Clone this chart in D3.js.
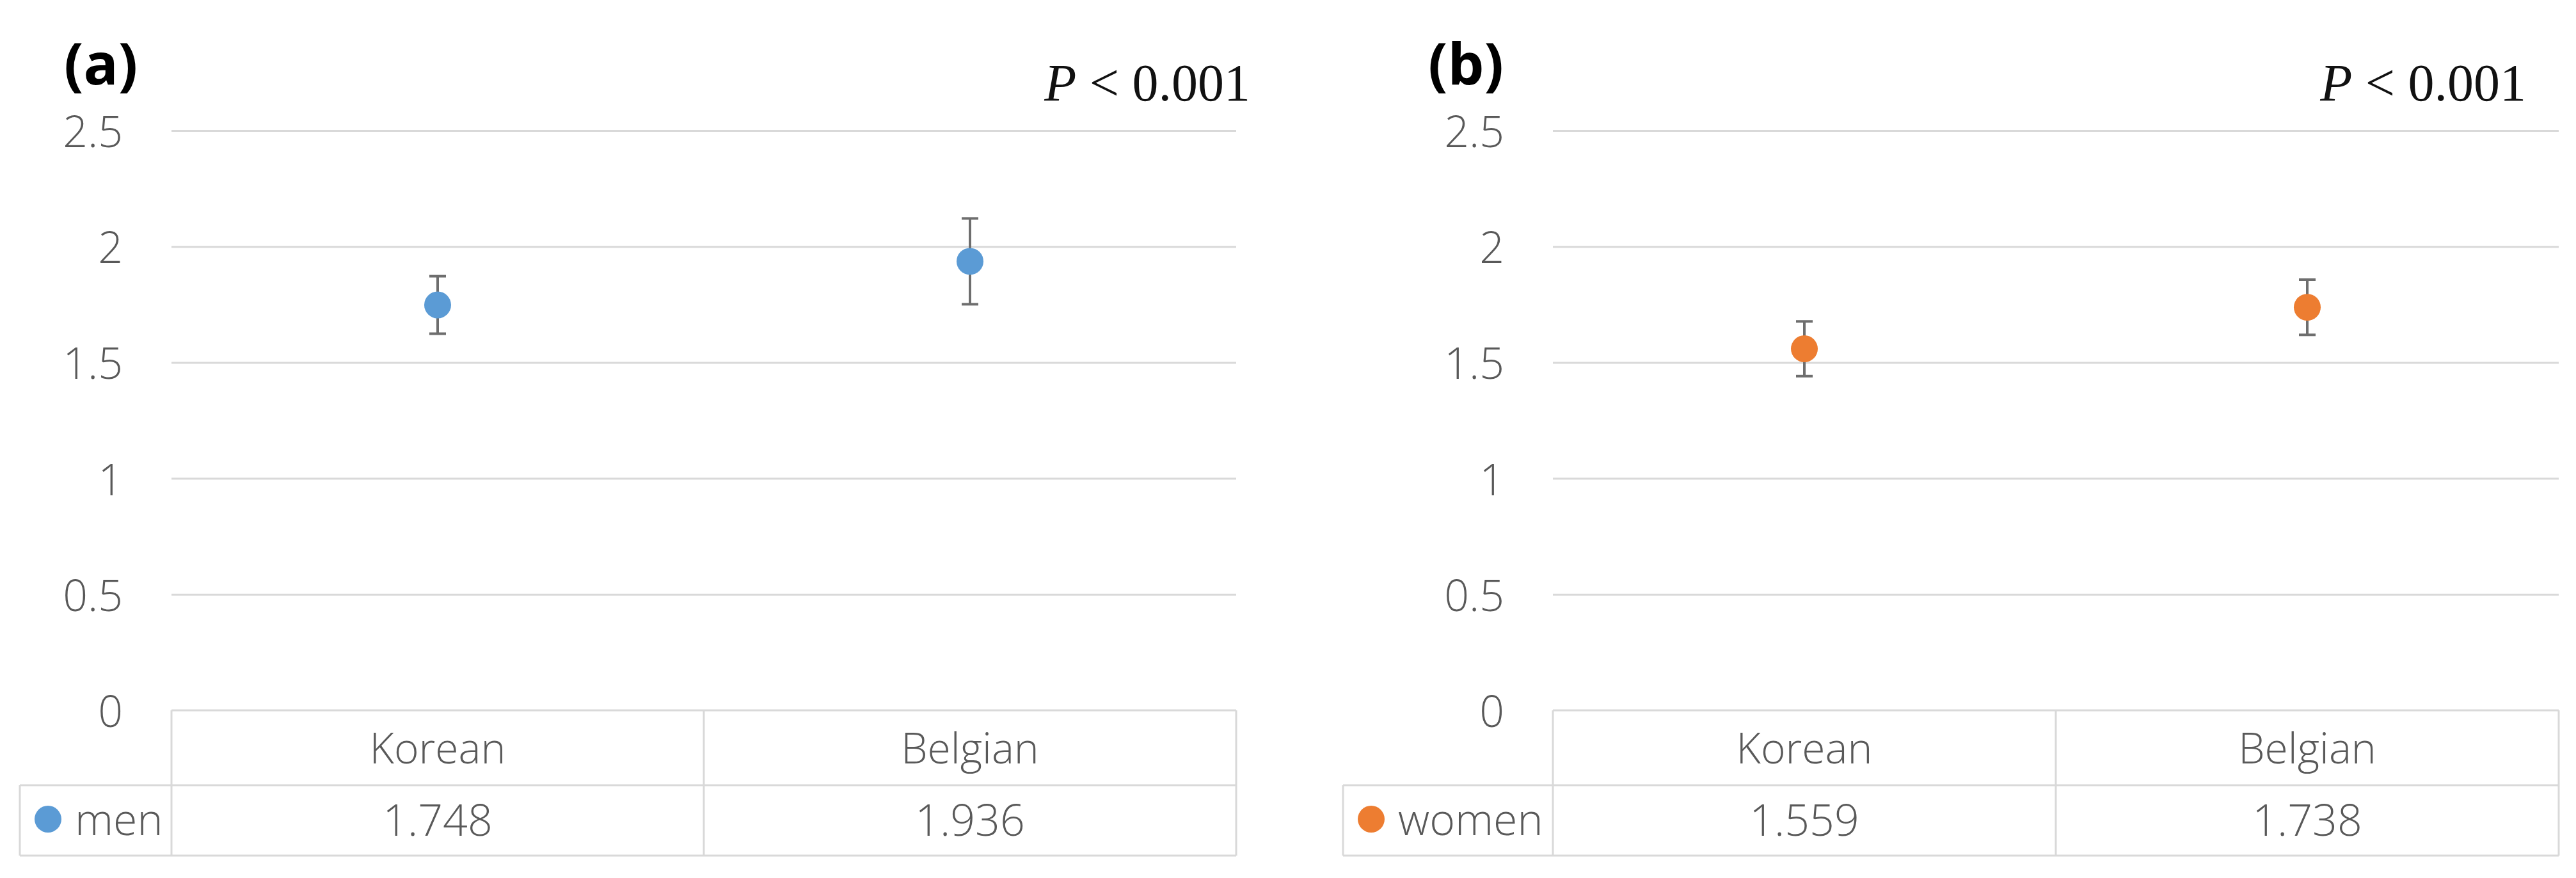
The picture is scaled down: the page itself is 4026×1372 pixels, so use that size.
<!DOCTYPE html>
<html>
<head>
<meta charset="utf-8">
<script src="https://cdn.jsdelivr.net/npm/d3@7"></script>
<style>
  html, body { margin: 0; padding: 0; background: #ffffff; }
  svg { display: block; }
</style>
</head>
<body>
<svg id="chart" width="4026" height="1372"></svg>
<script>
// ---- data ----
const categories = ["Korean", "Belgian"];
const seriesNames = ["men", "women"];
const menValues = [1.748, 1.936];
const menErrors = [0.124, 0.185];
const womenValues = [1.559, 1.738];
const womenErrors = [0.118, 0.119];
const yTickValues = [0, 0.5, 1, 1.5, 2, 2.5];
const yTickLabels = ["0", "0.5", "1", "1.5", "2", "2.5"];
const panelLabels = ["(a)", "(b)"];
const pValueLabel = "< 0.001";
const seriesColors = ["#5b9bd5", "#ed7d31"];

// ---- layout ----
const panels = [
  { label: panelLabels[0], name: seriesNames[0], values: menValues, errors: menErrors, color: seriesColors[0],
    legendLeft: 31, left: 268, right: 1932, labelX: 100, pRight: 1954 },
  { label: panelLabels[1], name: seriesNames[1], values: womenValues, errors: womenErrors, color: seriesColors[1],
    legendLeft: 2099, left: 2427, right: 3999, labelX: 2232, pRight: 3948 }
];
const yTop = 204, yZero = 1110, rowMid = 1227, rowBottom = 1337;
const gridColor = "#d9d9d9";
const textColor = "#595959";
const sansFont = "'Open Sans', 'Noto Sans', sans-serif";

const svg = d3.select("#chart");

const y = d3.scaleLinear().domain([0, 2.5]).range([yZero, yTop]);

panels.forEach(p => {
  const g = svg.append("g");
  const x = d3.scaleBand().domain(categories).range([p.left, p.right]).padding(0);

  // panel label
  g.append("text")
    .attr("x", p.labelX).attr("y", 132)
    .attr("font-family", sansFont).attr("font-weight", 700)
    .attr("font-size", 90).attr("fill", "#000")
    .text(p.label);

  // p-value
  const pt = g.append("text")
    .attr("x", p.pRight).attr("y", 157)
    .attr("text-anchor", "end")
    .attr("font-family", "'Liberation Serif', 'DejaVu Serif', serif")
    .attr("font-size", 82).attr("fill", "#111");
  pt.append("tspan").attr("font-style", "italic").text("P");
  pt.append("tspan").text(" " + pValueLabel);

  // gridlines (0 is the table's top border)
  const yAxis = d3.axisLeft(y).tickValues(yTickValues.filter(v => v > 0))
    .tickSize(-(p.right - p.left)).tickFormat("");
  const ga = g.append("g").attr("transform", `translate(${p.left},0)`).call(yAxis);
  ga.select(".domain").remove();
  ga.selectAll(".tick line").attr("stroke", gridColor).attr("stroke-width", 3);

  // tick labels
  g.selectAll(".ylab").data(yTickValues).enter().append("text")
    .attr("class", "ylab")
    .attr("x", p.left - 76)
    .attr("y", d => y(d) + 26)
    .attr("text-anchor", "end")
    .attr("font-family", sansFont).attr("font-weight", 300)
    .attr("font-size", 68).attr("fill", textColor)
    .text((d, i) => yTickLabels[i]);

  // data table
  const lines = [
    [p.left, yZero, p.right, yZero],
    [p.legendLeft, rowMid, p.right, rowMid],
    [p.legendLeft, rowBottom, p.right, rowBottom],
    [p.legendLeft, rowMid, p.legendLeft, rowBottom],
    [p.left, yZero, p.left, rowBottom],
    [x(categories[1]), yZero, x(categories[1]), rowBottom],
    [p.right, yZero, p.right, rowBottom]
  ];
  g.selectAll(".tbl").data(lines).enter().append("line")
    .attr("x1", d => d[0]).attr("y1", d => d[1])
    .attr("x2", d => d[2]).attr("y2", d => d[3])
    .attr("stroke", gridColor).attr("stroke-width", 3);

  g.selectAll(".cat").data(categories).enter().append("text")
    .attr("x", d => x(d) + x.bandwidth() / 2).attr("y", 1193)
    .attr("text-anchor", "middle")
    .attr("font-family", sansFont).attr("font-weight", 300)
    .attr("font-size", 66).attr("fill", textColor)
    .text(d => d);

  g.selectAll(".val").data(p.values).enter().append("text")
    .attr("x", (d, i) => x(categories[i]) + x.bandwidth() / 2).attr("y", 1306)
    .attr("text-anchor", "middle")
    .attr("font-family", sansFont).attr("font-weight", 300)
    .attr("font-size", 68).attr("fill", textColor)
    .text(d => d3.format(".3f")(d));

  // legend key
  g.append("circle").attr("cx", p.legendLeft + 44).attr("cy", 1280).attr("r", 21).attr("fill", p.color);
  g.append("text")
    .attr("x", p.legendLeft + 86).attr("y", 1305)
    .attr("font-family", sansFont).attr("font-weight", 300)
    .attr("font-size", 68).attr("fill", textColor)
    .text(p.name);

  // error bars
  const cap = 13;
  const eg = g.selectAll(".err").data(p.values).enter().append("g")
    .attr("stroke", "#6e6e6e").attr("stroke-width", 4);
  eg.append("line")
    .attr("x1", (d, i) => x(categories[i]) + x.bandwidth() / 2)
    .attr("x2", (d, i) => x(categories[i]) + x.bandwidth() / 2)
    .attr("y1", (d, i) => y(d + p.errors[i]))
    .attr("y2", (d, i) => y(d - p.errors[i]));
  eg.append("line")
    .attr("x1", (d, i) => x(categories[i]) + x.bandwidth() / 2 - cap)
    .attr("x2", (d, i) => x(categories[i]) + x.bandwidth() / 2 + cap)
    .attr("y1", (d, i) => y(d + p.errors[i]))
    .attr("y2", (d, i) => y(d + p.errors[i]));
  eg.append("line")
    .attr("x1", (d, i) => x(categories[i]) + x.bandwidth() / 2 - cap)
    .attr("x2", (d, i) => x(categories[i]) + x.bandwidth() / 2 + cap)
    .attr("y1", (d, i) => y(d - p.errors[i]))
    .attr("y2", (d, i) => y(d - p.errors[i]));

  // points
  g.selectAll(".pt").data(p.values).enter().append("circle")
    .attr("cx", (d, i) => x(categories[i]) + x.bandwidth() / 2)
    .attr("cy", d => y(d))
    .attr("r", 21)
    .attr("fill", p.color);
});
</script>
</body>
</html>
